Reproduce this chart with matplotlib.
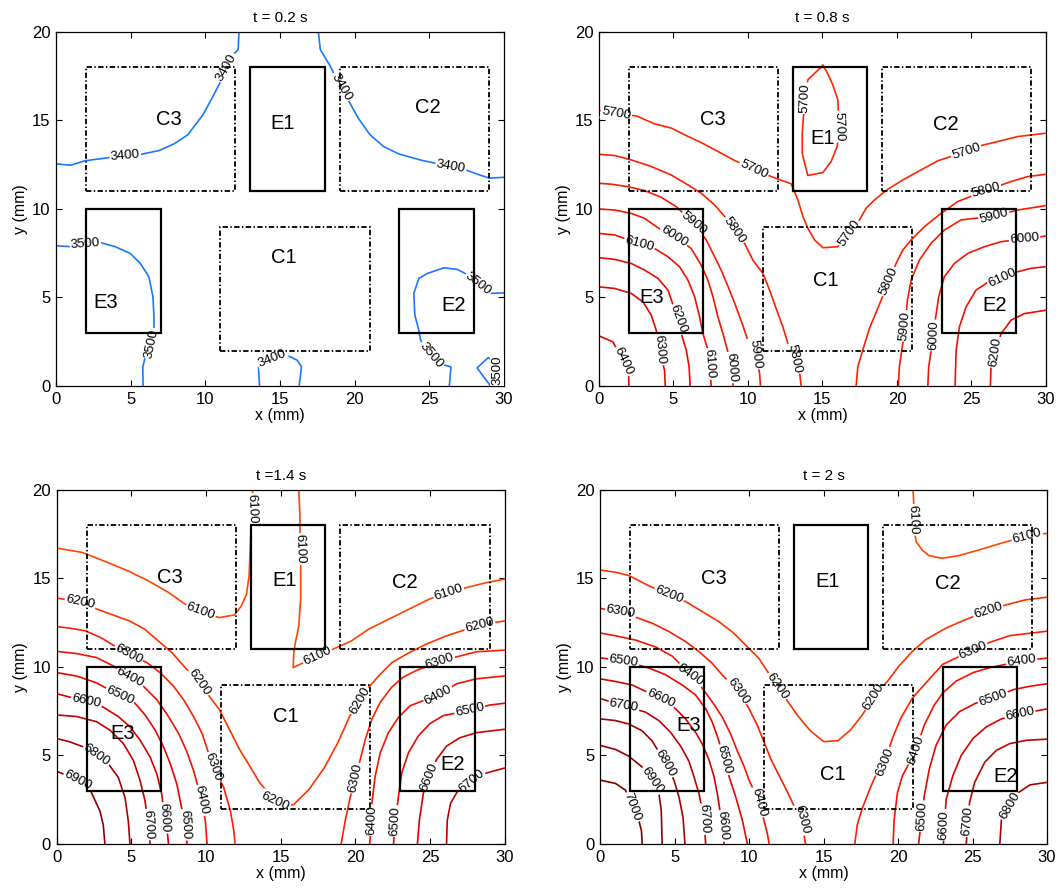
import matplotlib
matplotlib.use('Agg')
import matplotlib.pyplot as plt
import matplotlib.patches as mpatches
from matplotlib.colors import LinearSegmentedColormap, Normalize

plt.rcParams['font.family'] = ['Liberation Sans', 'DejaVu Sans']

# 区域矩形 (x0, y0, x1, y1), mm
CRACK_BOXES = {'C1': (11, 2, 21, 9), 'C2': (19, 11, 29, 18), 'C3': (2, 11, 12, 18)}
ELEC_BOXES = {'E1': (13, 11, 18, 18), 'E2': (23, 3, 28, 10), 'E3': (2, 3, 7, 10)}

TITLES = ['t = 0.2 s', 't = 0.8 s', 't =1.4 s', 't = 2 s']

# ---------------- t = 0.2 s ----------------
T02_LINES = [
    (3400, [(0, 12.55), (0.97, 12.47), (1.92, 12.72), (3.73, 12.92), (5.54, 13.06), (6.9, 13.3),
            (7.91, 13.68), (8.82, 14.19), (9.84, 15.32), (10.51, 16.36), (11.08, 17.3), (11.64, 18.53),
            (12.2, 19.0), (12.25, 20)]),
    (3400, [(17.57, 20), (17.7, 19.0), (18.31, 18.15), (18.65, 17.58), (19.1, 16.89), (19.56, 16.17),
            (20.24, 15.13), (21.03, 14.19), (21.93, 13.53), (22.95, 13.11), (24.53, 12.74), (25.43, 12.58),
            (26.45, 12.4), (27.47, 12.2), (28.37, 11.92), (29.05, 11.74), (30, 11.79)]),
    (3500, [(0, 7.92), (1.02, 7.87), (1.97, 8.0), (2.94, 8.11), (3.96, 7.87), (4.97, 7.49), (5.65, 6.92),
            (6.22, 6.17), (6.49, 5.04), (6.56, 3.9), (6.56, 3.15), (6.38, 2.4), (6.04, 1.83), (5.81, 1.08),
            (5.83, 0)]),
    (3400, [(13.63, 0), (13.56, 1.08), (13.79, 1.36), (14.47, 1.55), (15.15, 1.77), (15.71, 1.64),
            (16.16, 1.45), (16.44, 1.08), (16.28, 0)]),
    (3500, [(26.34, 0), (26.45, 1.08), (25.89, 1.21), (25.1, 1.74), (24.42, 2.58), (24.3, 3.15),
            (24.03, 4.0), (23.96, 5.23), (24.3, 6.08), (24.87, 6.36), (26.0, 6.68), (26.9, 6.58),
            (27.47, 6.32), (28.26, 5.75), (29.05, 5.23), (30, 5.26)]),
    (3500, [(29.1, 0), (28.2, 1.02), (28.94, 1.6), (29.5, 1.3), (29.55, 0.5), (29.1, 0)]),
]
T02_LABELS = [(3400, 4.63, 13.0, 5), (3400, 11.4, 18.0, 60), (3400, 19.1, 16.89, -60),
              (3400, 26.45, 12.4, -10), (3500, 1.97, 8.0, 4), (3500, 6.38, 2.4, 78),
              (3400, 14.47, 1.55, 22), (3500, 25.1, 1.74, -50), (3500, 28.26, 5.75, -38),
              (3500, 29.55, 0.9, 90)]
T02_NAMES = {'C3': (7.57, 15.07), 'E1': (15.2, 14.85), 'C2': (24.9, 15.75),
             'C1': (15.26, 7.25), 'E3': (3.35, 4.72), 'E2': (26.6, 4.57)}

# ---------------- t = 0.8 s ----------------
T08_LINES = [
    (5700, [(0, 15.57), (1.16, 15.36), (2.5, 15.26), (3.73, 14.81), (4.85, 14.57), (5.75, 14.19),
            (6.86, 13.75), (7.98, 13.25), (9.1, 12.74), (10.4, 12.25), (11.56, 11.83), (12.9, 11.42),
            (13.35, 10.51), (13.69, 9.57), (14.02, 8.91), (14.47, 8.25), (15.03, 7.81), (16.03, 7.87),
            (16.81, 8.62), (17.48, 9.38), (17.93, 10.04), (18.49, 10.51), (19.38, 11.11), (20.39, 11.64),
            (21.4, 12.11), (22.74, 12.72), (24.64, 13.25), (25.64, 13.58), (26.76, 13.81), (28.1, 14.09),
            (30, 14.28)]),
    (5700, [(15.03, 18.11), (14.02, 17.3), (13.84, 16.26), (13.75, 15.51), (13.64, 14.28), (13.64, 13.15),
            (13.86, 12.4), (14.02, 11.89), (15.03, 12.06), (15.58, 12.68), (15.99, 13.53), (16.12, 14.66),
            (16.03, 16.17), (15.69, 17.02), (15.31, 17.72), (15.03, 18.11)]),
    (5800, [(0, 13.09), (1.05, 13.02), (2.17, 12.77), (3.51, 12.4), (4.85, 11.92), (5.97, 11.36),
            (6.86, 10.89), (7.76, 10.23), (8.54, 9.47), (9.1, 8.81), (9.77, 8.06), (10.33, 7.11),
            (11.0, 6.36), (11.45, 5.42), (11.89, 4.38), (12.34, 3.34), (12.68, 2.4), (13.12, 1.55),
            (13.46, 0.79), (13.57, 0)]),
    (5800, [(17.26, 0), (17.37, 1.08), (17.7, 2.02), (18.15, 3.25), (18.71, 4.38), (19.45, 5.9),
            (19.94, 6.92), (20.39, 7.68), (20.95, 8.25), (21.84, 9.0), (22.96, 9.75), (24.08, 10.42),
            (25.98, 11.05), (27.66, 11.55), (28.77, 11.83), (30, 11.96)]),
    (5900, [(0, 11.45), (0.83, 11.4), (1.95, 11.26), (3.06, 11.04), (4.18, 10.66), (5.19, 10.13),
            (6.35, 9.18), (7.2, 8.25), (7.65, 7.49), (8.2, 6.55), (8.76, 5.42), (9.2, 4.47), (9.65, 3.43),
            (9.99, 2.58), (10.5, 1.82), (10.78, 0.7), (10.84, 0)]),
    (5900, [(20.1, 0), (20.16, 1.08), (20.39, 2.4), (20.55, 3.4), (20.7, 4.85), (20.95, 5.98),
            (21.5, 7.11), (22.29, 8.06), (23.18, 8.81), (24.3, 9.38), (26.52, 9.6), (28.1, 9.94),
            (30, 10.19)]),
    (6000, [(0, 10.0), (1.05, 9.94), (2.17, 9.75), (3.06, 9.47), (4.2, 8.8), (5.05, 8.45), (6.19, 7.77),
            (6.86, 6.83), (7.31, 5.98), (7.65, 5.04), (7.98, 3.91), (8.32, 2.96), (8.6, 2.1), (8.9, 1.05),
            (9.0, 0)]),
    (6000, [(22.07, 0), (22.13, 1.08), (22.45, 2.86), (22.6, 3.9), (22.8, 5.04), (23.18, 6.17),
            (23.85, 6.92), (24.75, 7.49), (25.87, 7.87), (26.98, 8.15), (28.56, 8.32), (30, 8.47)]),
    (6100, [(0, 8.62), (1.05, 8.53), (2.72, 8.05), (3.73, 7.77), (4.63, 7.3), (5.41, 6.74), (5.97, 5.98),
            (6.42, 5.04), (6.75, 3.91), (6.98, 2.96), (7.31, 2.02), (7.43, 1.25), (7.53, 0)]),
    (6100, [(23.9, 0), (23.97, 2.02), (24.19, 3.34), (24.64, 4.47), (25.31, 5.42), (26.09, 5.85),
            (27.08, 6.1), (28.1, 6.45), (29.0, 6.65), (30, 6.74)]),
    (6200, [(0, 7.25), (1.05, 7.15), (2.17, 6.92), (3.06, 6.55), (3.96, 6.08), (4.63, 5.42), (5.3, 3.77),
            (5.52, 2.96), (5.86, 2.02), (6.05, 1.08), (6.12, 0)]),
    (6200, [(26.27, 0), (26.31, 1.08), (26.63, 1.9), (26.98, 2.95), (27.66, 3.72), (28.55, 4.09),
            (30, 4.28)]),
    (6300, [(0, 5.6), (1.05, 5.51), (2.17, 5.23), (2.95, 4.75), (3.51, 4.0), (3.84, 3.15), (4.07, 2.05),
            (4.4, 0.89), (4.45, 0)]),
    (6400, [(0, 2.83), (0.94, 2.49), (1.62, 1.4), (1.99, 0.6), (2.01, 0)]),
]
T08_LABELS = [(5700, 1.16, 15.36, -10), (5700, 10.4, 12.25, -25), (5700, 16.81, 8.62, 55),
              (5700, 24.64, 13.25, 18), (5700, 13.84, 16.26, 88), (5700, 16.12, 14.66, -88),
              (5800, 9.1, 8.81, -55), (5800, 13.12, 1.55, -78), (5800, 19.45, 5.9, 66),
              (5800, 25.98, 11.05, 15), (5900, 6.35, 9.18, -40), (5900, 10.5, 1.82, -82),
              (5900, 20.55, 3.4, 85), (5900, 26.52, 9.6, 15), (6000, 5.05, 8.45, -33),
              (6000, 8.9, 1.05, -85), (6000, 22.45, 2.86, 88), (6000, 28.56, 8.32, 5),
              (6100, 2.72, 8.05, -15), (6100, 7.43, 1.25, -86), (6100, 27.08, 6.1, 25),
              (6200, 5.3, 3.77, -70), (6200, 26.63, 1.9, 82), (6300, 4.07, 2.05, -85),
              (6400, 1.62, 1.4, -65)]
T08_NAMES = {'C3': (7.65, 15.08), 'E1': (14.98, 14.0), 'C2': (23.3, 14.75),
             'C1': (15.25, 5.98), 'E3': (3.55, 5.0), 'E2': (26.54, 4.57)}

# ---------------- t = 1.4 s ----------------
T14_LINES = [
    (6100, [(0, 16.72), (1.7, 16.47), (3.4, 15.91), (4.77, 15.43), (6.13, 14.87), (7.49, 14.21),
            (8.6, 13.55), (9.64, 13.13), (10.89, 12.79), (11.91, 12.94), (12.37, 13.45), (12.71, 14.11),
            (12.89, 15.15), (12.98, 17.04), (13.05, 18.5), (13.1, 18.92), (13.12, 20)]),
    (6100, [(16.22, 20), (16.29, 18.55), (16.3, 16.66), (16.34, 15.72), (16.34, 13.83), (16.22, 12.32),
            (15.99, 11.38), (15.88, 10.81), (15.84, 9.96), (16.07, 10.06), (17.47, 10.6), (18.49, 11.0),
            (19.74, 11.47), (20.88, 12.13), (22.01, 12.6), (23.37, 13.17), (25.0, 13.85), (26.25, 14.2),
            (27.46, 14.49), (28.82, 14.77), (30, 14.96)]),
    (6200, [(0, 13.89), (1.59, 13.68), (2.72, 13.26), (3.63, 12.98), (4.88, 12.6), (5.9, 12.13),
            (6.81, 11.47), (7.72, 10.81), (8.51, 10.06), (9.53, 9.11), (10.21, 8.36), (10.89, 7.6),
            (11.57, 6.47), (12.25, 5.34), (12.93, 4.4), (13.61, 3.45), (14.64, 2.42), (15.2, 2.13),
            (15.88, 2.23), (16.9, 3.08), (17.92, 4.3), (18.83, 5.72), (19.63, 7.23), (20.31, 8.08),
            (20.88, 8.83), (21.56, 9.49), (22.46, 10.25), (23.6, 10.81), (24.73, 11.28), (26.09, 11.75),
            (28.32, 12.38), (30, 12.6)]),
    (6300, [(0, 12.28), (0.91, 12.19), (1.93, 12.04), (2.95, 11.66), (4.8, 10.72), (6.04, 10.25),
            (6.93, 9.68), (7.83, 8.91), (8.5, 8.15), (9.17, 7.2), (9.74, 6.24), (10.48, 4.34),
            (11.19, 3.19), (11.64, 1.86), (11.87, 0.71), (11.95, 0)]),
    (6300, [(19.05, 0), (19.33, 1.34), (19.67, 2.68), (20.0, 3.72), (20.33, 4.77), (20.67, 5.91),
            (21.11, 7.05), (21.67, 8.0), (22.44, 8.86), (23.22, 9.43), (24.11, 9.81), (25.67, 10.29),
            (26.78, 10.57), (28.11, 10.86), (30, 10.95)]),
    (6400, [(0, 10.88), (1.33, 10.76), (2.67, 10.53), (3.79, 10.06), (4.9, 9.4), (5.81, 8.91),
            (6.71, 8.15), (7.49, 7.2), (8.17, 6.24), (8.73, 5.19), (9.17, 4.14), (9.72, 2.47),
            (9.96, 1.28), (10.07, 0)]),
    (6400, [(20.96, 0), (21.1, 1.35), (21.11, 2.3), (21.33, 3.82), (21.67, 5.15), (22.22, 6.29),
            (22.89, 7.15), (23.67, 7.81), (25.56, 8.42), (26.78, 9.05), (28.11, 9.33), (30, 9.49)]),
    (6500, [(0, 9.68), (1.33, 9.49), (2.67, 9.1), (4.24, 8.38), (5.14, 8.05), (5.92, 7.29), (6.6, 6.43),
            (7.16, 5.48), (7.61, 4.53), (8.05, 3.38), (8.32, 2.24), (8.61, 1.09), (8.73, 0)]),
    (6500, [(22.56, 0), (22.68, 1.3), (22.89, 2.68), (23.11, 4.01), (23.56, 5.15), (24.22, 6.1),
            (25.0, 6.8), (25.89, 7.25), (27.67, 7.55), (29.0, 7.85), (30, 7.95)]),
    (6600, [(0, 8.49), (2.0, 8.05), (3.12, 7.73), (4.13, 7.2), (4.91, 6.62), (5.59, 5.86), (6.26, 4.91),
            (6.71, 3.95), (7.04, 2.81), (7.22, 1.47), (7.43, 0.52), (7.49, 0)]),
    (6600, [(24.16, 0), (24.29, 1.34), (24.56, 2.87), (24.95, 3.8), (25.44, 4.77), (26.11, 5.53),
            (27.0, 6.0), (28.11, 6.29), (30, 6.48)]),
    (6700, [(0, 7.29), (1.33, 7.2), (2.67, 6.91), (3.57, 6.43), (4.47, 5.67), (5.14, 4.72), (5.59, 3.57),
            (5.92, 2.43), (6.14, 1.1), (6.26, 0)]),
    (6700, [(26.11, 0), (26.16, 1.34), (26.38, 2.3), (26.9, 3.05), (27.78, 3.53), (28.78, 4.01),
            (30, 4.29)]),
    (6800, [(0, 5.96), (0.88, 5.77), (1.9, 5.45), (2.67, 5.0), (3.46, 4.53), (4.13, 3.76), (4.58, 2.62),
            (4.8, 1.28), (4.91, 0)]),
    (6900, [(0, 4.11), (1.44, 3.61), (2.22, 3.1), (2.9, 1.86), (3.12, 1.09), (3.23, 0)]),
]
T14_LABELS = [(6100, 9.64, 13.13, -20), (6100, 13.1, 18.92, -88), (6100, 16.3, 16.66, -88),
              (6100, 17.47, 10.6, 25), (6100, 26.25, 14.2, 18), (6200, 1.59, 13.68, -12),
              (6200, 9.53, 9.11, -55), (6200, 14.64, 2.42, -25), (6200, 20.31, 8.08, 60),
              (6200, 28.32, 12.38, 15), (6300, 4.8, 10.72, -28), (6300, 10.48, 4.34, -70),
              (6300, 20.0, 3.72, 78), (6300, 25.67, 10.29, 18), (6400, 4.9, 9.4, -28),
              (6400, 9.72, 2.47, -78), (6400, 21.1, 1.35, 88), (6400, 25.56, 8.42, 28),
              (6500, 4.24, 8.38, -25), (6500, 8.61, 1.09, -87), (6500, 22.68, 1.3, 87),
              (6500, 27.67, 7.55, 12), (6600, 2.0, 8.05, -12), (6600, 7.22, 1.47, -87),
              (6600, 24.95, 3.8, 68), (6700, 6.14, 1.1, -87), (6700, 27.78, 3.53, 40),
              (6800, 2.67, 5.0, -35), (6900, 1.44, 3.61, -28)]
T14_NAMES = {'C3': (7.6, 15.06), 'E1': (15.27, 14.87), 'C2': (23.33, 14.77),
             'C1': (15.32, 7.23), 'E3': (4.45, 6.25), 'E2': (26.55, 4.49)}

# ---------------- t = 2 s ----------------
T20_LINES = [
    (6100, [(21.01, 20), (21.06, 19.15), (20.97, 18.31), (21.22, 17.08), (21.62, 16.61), (22.07, 16.29),
            (22.96, 16.14), (24.08, 16.29), (25.42, 16.61), (26.76, 16.95), (28.66, 17.4), (30, 17.55)]),
    (6200, [(0, 15.48), (1.05, 15.35), (1.95, 15.16), (3.2, 14.62), (4.63, 14.07), (5.75, 13.69),
            (6.86, 13.13), (7.98, 12.56), (8.99, 11.9), (9.99, 11.05), (10.66, 10.49), (11.89, 8.91),
            (12.45, 8.23), (13.23, 7.29), (14.13, 6.38), (15.02, 5.78), (15.98, 5.84), (16.81, 6.44),
            (17.6, 7.29), (18.38, 8.32), (19.27, 9.17), (20.05, 10.04), (20.95, 10.87), (21.84, 11.53),
            (23.18, 12.18), (24.6, 12.7), (26.05, 13.16), (27.21, 13.5), (28.55, 13.79), (30, 13.94)]),
    (6300, [(0, 13.31), (1.39, 13.13), (2.39, 12.81), (3.51, 12.47), (4.63, 12.0), (5.75, 11.43),
            (6.64, 10.87), (7.53, 10.21), (8.2, 9.55), (9.25, 8.65), (9.99, 7.66), (10.55, 6.72),
            (11.0, 5.78), (11.46, 4.8), (12.0, 3.9), (12.6, 2.9), (13.1, 2.0), (13.53, 1.36),
            (13.79, 0)]),
    (6300, [(17.1, 0), (17.26, 1.07), (17.6, 2.02), (18.2, 3.3), (18.5, 3.86), (19.1, 4.63),
            (19.62, 5.96), (20.18, 7.1), (20.97, 8.25), (21.87, 9.1), (23.0, 10.15), (24.0, 10.55),
            (25.05, 10.9), (26.15, 11.39), (27.5, 11.77), (30, 12.02)]),
    (6400, [(0, 11.92), (1.04, 11.76), (2.38, 11.52), (3.73, 11.13), (4.85, 10.61), (6.08, 9.56),
            (6.87, 8.79), (7.54, 8.02), (8.21, 7.16), (8.77, 6.2), (9.22, 5.24), (9.67, 4.38),
            (10.0, 3.61), (10.68, 2.37), (11.01, 1.31), (11.24, 0.54), (11.35, 0)]),
    (6400, [(19.67, 0), (19.74, 1.38), (19.96, 2.9), (20.3, 3.86), (21.2, 5.29), (21.76, 6.72),
            (22.44, 7.86), (23.0, 8.53), (23.9, 9.2), (25.03, 9.68), (26.15, 9.96), (28.29, 10.34),
            (30, 10.5)]),
    (6500, [(0, 10.52), (1.6, 10.33), (3.28, 9.94), (4.4, 9.56), (5.52, 8.98), (6.42, 8.41), (7.09, 7.64),
            (7.54, 6.87), (7.95, 5.9), (8.32, 4.76), (8.66, 3.81), (9.11, 2.65), (9.56, 1.31), (9.89, 0)]),
    (6500, [(21.38, 0), (21.6, 1.57), (21.76, 2.71), (22.1, 4.24), (22.55, 5.57), (23.23, 6.72),
            (24.13, 7.48), (25.2, 7.95), (26.38, 8.25), (27.73, 8.72), (28.86, 8.91), (30, 9.05)]),
    (6600, [(0, 9.33), (1.04, 9.18), (2.16, 8.98), (4.06, 8.22), (5.07, 7.64), (5.74, 7.07), (6.42, 6.3),
            (6.87, 5.63), (7.31, 4.76), (7.65, 3.81), (7.87, 2.85), (8.21, 1.02), (8.32, 0)]),
    (6600, [(23.05, 0), (23.11, 1.09), (23.23, 2.52), (23.68, 3.86), (24.24, 5.0), (25.03, 5.96),
            (25.93, 6.62), (26.9, 7.05), (28.18, 7.35), (30, 7.63)]),
    (6700, [(0, 8.22), (1.6, 7.79), (3.05, 7.45), (3.95, 6.97), (4.74, 6.3), (5.41, 5.53), (5.97, 4.67),
            (6.3, 3.81), (6.64, 2.85), (6.98, 1.41), (7.09, 0)]),
    (6700, [(24.58, 0), (24.69, 1.28), (24.8, 2.33), (25.14, 3.48), (25.82, 4.62), (26.6, 5.29),
            (27.5, 5.67), (28.63, 5.86), (30, 5.92)]),
    (6800, [(0, 7.07), (1.04, 6.97), (1.93, 6.78), (2.83, 6.39), (3.5, 5.82), (4.4, 4.57), (4.96, 3.61),
            (5.3, 2.65), (5.57, 1.5), (5.7, 0)]),
    (6800, [(26.83, 0), (26.94, 1.38), (27.5, 2.14), (28.07, 2.9), (28.86, 3.34), (30, 3.48)]),
    (6900, [(0, 5.57), (1.04, 5.34), (1.93, 4.96), (2.9, 4.3), (3.5, 3.61), (3.95, 2.85), (4.11, 1.89),
            (4.17, 0)]),
    (7000, [(0, 3.61), (1.04, 3.42), (1.71, 3.04), (2.16, 2.08), (2.61, 1.31), (2.78, 0.74), (2.83, 0)]),
]
T20_LABELS = [(6100, 20.97, 18.31, -88), (6100, 28.66, 17.4, 15), (6200, 4.63, 14.07, -22),
              (6200, 11.89, 8.91, -55), (6200, 18.38, 8.32, 58), (6200, 26.05, 13.16, 18),
              (6300, 1.39, 13.13, -10), (6300, 9.25, 8.65, -55), (6300, 13.53, 1.36, -75),
              (6300, 19.1, 4.63, 68), (6300, 25.05, 10.9, 22), (6400, 6.08, 9.56, -35),
              (6400, 10.68, 2.37, -75), (6400, 21.2, 5.29, 72), (6400, 28.29, 10.34, 8),
              (6500, 1.6, 10.33, -8), (6500, 8.32, 4.76, -75), (6500, 21.6, 1.57, 87),
              (6500, 26.38, 8.25, 20), (6600, 4.06, 8.22, -25), (6600, 8.21, 1.02, -85),
              (6600, 23.11, 1.09, 88), (6600, 28.18, 7.35, 12), (6700, 1.6, 7.79, -10),
              (6700, 6.98, 1.41, -87), (6700, 24.69, 1.28, 85), (6800, 4.4, 4.57, -60),
              (6800, 27.5, 2.14, 60), (6900, 3.5, 3.61, -55), (7000, 2.16, 2.08, -70)]
T20_NAMES = {'C3': (7.65, 15.01), 'E1': (15.25, 14.82), 'C2': (23.36, 14.73),
             'C1': (15.63, 3.9), 'E3': (5.97, 6.72), 'E2': (27.2, 3.8)}

PANELS = [(T02_LINES, T02_LABELS, T02_NAMES),
          (T08_LINES, T08_LABELS, T08_NAMES),
          (T14_LINES, T14_LABELS, T14_NAMES),
          (T20_LINES, T20_LABELS, T20_NAMES)]

# 颜色: 第一幅为蓝色, 其余按等值线数值由橙红到暗红
reds = LinearSegmentedColormap.from_list('reds', ['#ff4500', '#ff1a00', '#e60000', '#b00000', '#7a0000'])
NORMS = [None, Normalize(5300, 7500), Normalize(6100, 7000), Normalize(6100, 7000)]


def level_color(i, level):
    if NORMS[i] is None:
        return '#1a78ff'
    return reds(NORMS[i](level))


fig = plt.figure(figsize=(10.59, 8.90), dpi=100)
positions = [[0.0529, 0.5663, 0.4230, 0.3978],
             [0.5656, 0.5663, 0.4221, 0.3978],
             [0.0535, 0.0517, 0.4230, 0.3978],
             [0.5666, 0.0517, 0.4221, 0.3978]]

for i, (lines, labels, names) in enumerate(PANELS):
    ax = fig.add_axes(positions[i])

    for level, pts in lines:
        xs = [p[0] for p in pts]
        ys = [p[1] for p in pts]
        ax.plot(xs, ys, color=level_color(i, level), lw=1.2, zorder=2, solid_joinstyle='round')

    for level, lx, ly, rot in labels:
        ax.text(lx, ly, str(level), fontsize=9.5, rotation=rot, rotation_mode='anchor',
                ha='center', va='center', zorder=3,
                bbox=dict(boxstyle='square,pad=0.08', fc='white', ec='none'))

    # 裂纹区域 (点划线) 与电极 (实线)
    for key, (x0, y0, x1, y1) in CRACK_BOXES.items():
        ax.add_patch(mpatches.Rectangle((x0, y0), x1 - x0, y1 - y0, fill=False, ec='k',
                                        lw=1.3, ls=(0, (3.0, 1.3, 0.8, 1.3)), zorder=4))
    for key, (x0, y0, x1, y1) in ELEC_BOXES.items():
        ax.add_patch(mpatches.Rectangle((x0, y0), x1 - x0, y1 - y0, fill=False, ec='k',
                                        lw=1.6, zorder=4))
    for key, (nx, ny) in names.items():
        ax.text(nx, ny, key, fontsize=14.5, ha='center', va='center', zorder=5)

    ax.set_xlim(0, 30)
    ax.set_ylim(0, 20)
    ax.set_xticks(range(0, 31, 5))
    ax.set_yticks(range(0, 21, 5))
    ax.tick_params(direction='in', top=True, right=True, length=4, width=0.8,
                   labelsize=12, pad=4)
    for sp in ax.spines.values():
        sp.set_linewidth(0.9)
    ax.set_xlabel('x (mm)', fontsize=11.5, labelpad=1)
    ax.set_ylabel('y (mm)', fontsize=11.5, labelpad=3)
    ax.set_title(TITLES[i], fontsize=11, pad=7)

fig.savefig('out.png', dpi=100)
plt.close(fig)
